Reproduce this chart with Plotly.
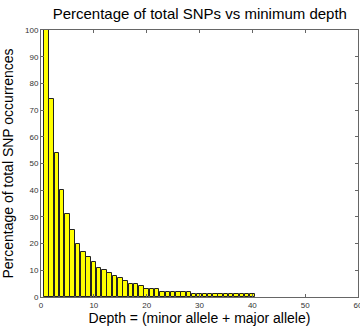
import plotly.graph_objects as go

depth = list(range(1, 41))
pct = [100, 74, 54, 40, 31, 25, 20, 17, 15, 13,
       11, 10, 9, 8, 7, 6, 5, 5, 4, 3,
       3, 3, 2, 2, 2, 2, 2, 2, 1, 1,
       1, 1, 1, 1, 1, 1, 1, 1, 1, 1]
xticks = [0, 10, 20, 30, 40, 50, 60]
yticks = [0, 10, 20, 30, 40, 50, 60, 70, 80, 90, 100]

fig = go.Figure(go.Bar(
    x=depth, y=pct, width=0.85,
    marker=dict(color="#ffff00", line=dict(color="#222222", width=1)),
))

font = "Liberation Sans, Arial, sans-serif"
axis_common = dict(
    showgrid=False, zeroline=False, showline=True, linecolor="#666666", linewidth=1,
    mirror="ticks", ticks="inside", ticklen=3, tickcolor="#666666",
    tickfont=dict(size=8, color="#333333", family=font),
    ticklabeloverflow="allow", automargin=False,
)
fig.update_layout(
    width=360, height=327,
    margin=dict(l=41, r=2, t=30, b=30),
    paper_bgcolor="white", plot_bgcolor="white",
    showlegend=False,
    title=dict(text="Percentage of total SNPs vs minimum depth", x=0.555, xanchor="center",
               y=0.957, yanchor="middle", font=dict(size=15, color="#000", family=font)),
    xaxis=dict(range=[0, 60], tickvals=xticks, title=dict(text="Depth = (minor allele + major allele)",
               font=dict(size=14, color="#000", family=font), standoff=4), **axis_common),
    yaxis=dict(range=[0, 100], tickvals=yticks, title=dict(text="Percentage of total SNP occurrences",
               font=dict(size=14, color="#000", family=font), standoff=9), **axis_common),
    bargap=0,
)
fig.write_html("out.html")
